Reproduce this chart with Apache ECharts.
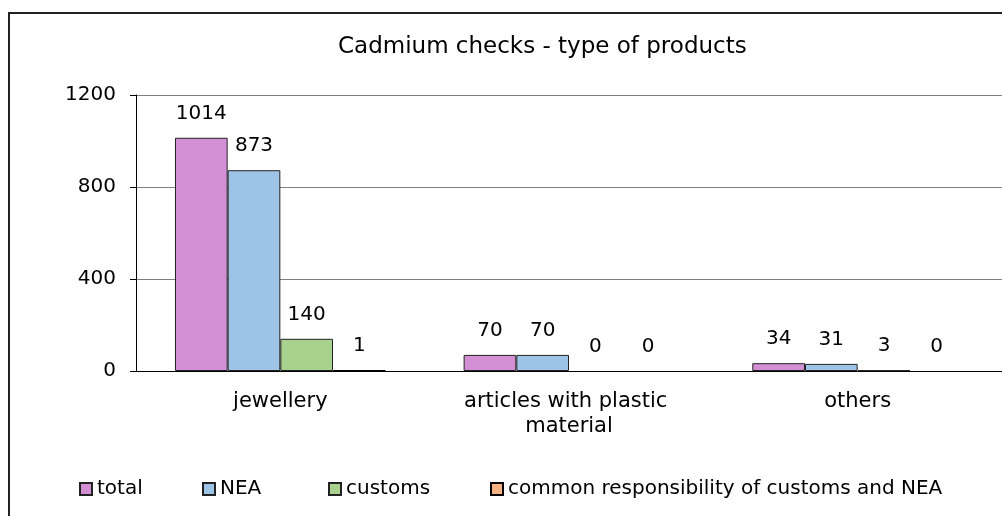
<!DOCTYPE html>
<html>
<head>
<meta charset="utf-8">
<title>Cadmium checks - type of products</title>
<script src="https://cdn.jsdelivr.net/npm/echarts@6/dist/echarts.min.js"></script>
<style>
  html, body { margin: 0; padding: 0; background: #fff; }
  #main { width: 1002px; height: 516px; }
</style>
</head>
<body>
<div id="main"></div>
<script>
// values
const categories = ["jewellery", "articles with plastic material", "others"];
const seriesNames = ["total", "NEA", "customs", "common responsibility of customs and NEA"];
const totalValues = [1014, 70, 34];
const neaValues = [873, 70, 31];
const customsValues = [140, 0, 3];
const commonValues = [1, 0, 0];
const yTicks = { min: 0, max: 1200, interval: 400 };

const colors = ["#d38fd4", "#9dc3e6", "#a9d18e", "#f4b183"];
const font = "DejaVu Sans";

let chart = echarts.init(document.getElementById("main"), null, { renderer: "canvas" });

function barSeries(name, values, color, thick) {
  return {
    name: name,
    type: "bar",
    // zero bars get no outline, so nothing is drawn for them
    data: values.map(v => (v === 0 ? { value: v, itemStyle: { borderWidth: 0 } } : v)),
    barGap: "0%",
    barCategoryGap: "27%",
    itemStyle: {
      color: color,
      borderColor: thick ? "#000" : "#222",
      borderWidth: thick ? 2 : 1,
    },
    label: {
      show: true,
      position: "top",
      distance: 14,
      color: "#000",
      fontFamily: font,
      fontSize: 20,
    },
  };
}

// one legend per item so each sits where the original put it
const legendLefts = [74, 197, 323, 485];
let legends = seriesNames.map((n, i) => ({
  data: [n],
  left: legendLefts[i],
  top: 474,
  icon: "rect",
  itemWidth: 12,
  itemHeight: 12,
  itemGap: 5,
  selectedMode: false,
  textStyle: { color: "#000", fontFamily: font, fontSize: 20 },
}));

let option = {
  animation: false,
  color: colors,
  title: {
    text: "Cadmium checks - type of products",
    left: 333,
    top: 31,
    textStyle: { color: "#000", fontFamily: font, fontSize: 23, fontWeight: "normal" },
  },
  graphic: [
    {
      type: "rect",
      shape: { x: 9, y: 13, width: 1100, height: 600 },
      style: { fill: "none", stroke: "#222", lineWidth: 2 },
      silent: true,
    },
  ],
  legend: legends,
  grid: { left: 136, top: 95, width: 873, height: 276 },
  xAxis: {
    type: "category",
    data: categories,
    axisLine: { lineStyle: { color: "#000" } },
    axisTick: { length: 6, lineStyle: { color: "#000" } },
    axisLabel: {
      color: "#000",
      fontFamily: font,
      fontSize: 21,
      margin: 18,
      width: 240,
      overflow: "break",
      lineHeight: 25,
      interval: 0,
    },
  },
  yAxis: {
    type: "value",
    min: yTicks.min,
    max: yTicks.max,
    interval: yTicks.interval,
    axisLine: { show: true, lineStyle: { color: "#000" } },
    axisTick: { show: true, length: 6, lineStyle: { color: "#000" } },
    axisLabel: {
      color: "#000",
      fontFamily: font,
      fontSize: 20,
      margin: 20,
      formatter: v => String(v),
    },
    splitLine: { lineStyle: { color: "#7f7f7f" } },
  },
  series: [
    barSeries(seriesNames[0], totalValues, colors[0], false),
    barSeries(seriesNames[1], neaValues, colors[1], false),
    barSeries(seriesNames[2], customsValues, colors[2], false),
    barSeries(seriesNames[3], commonValues, colors[3], true),
  ],
};
chart.setOption(option);
</script>
</body>
</html>
